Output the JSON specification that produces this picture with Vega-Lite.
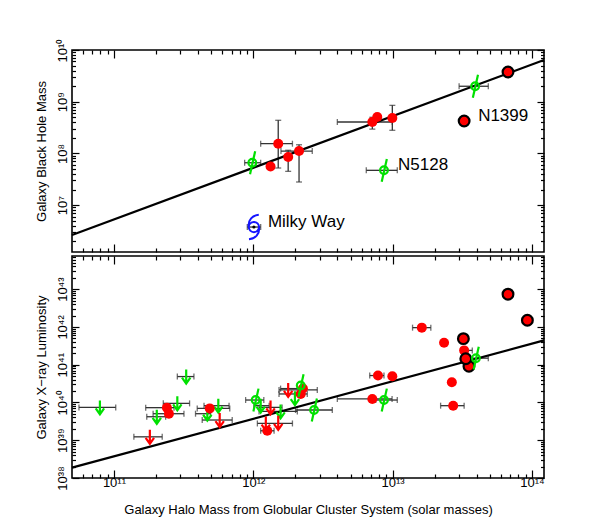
{
  "$schema": "https://vega.github.io/schema/vega-lite/v6.json",
  "background": "white",
  "padding": {"left": 34, "top": 37, "right": 5, "bottom": 5},
  "spacing": 0,
  "config": {
    "font": "Liberation Sans",
    "view": {"stroke": "black", "strokeWidth": 1.6},
    "axis": {
      "grid": false, "domain": false, "tickColor": "black", "tickWidth": 1.2,
      "labelColor": "black", "titleColor": "black", "labelFontSize": 13,
      "titleFontSize": 13, "titleFontWeight": "normal",
      "labelFlush": false, "labelOverlap": false, "labelBound": false
    }
  },
  "datasets": {
    "bhPoints": [
      {"halo": 1.33e12, "bh": 5.6e7, "kind": "red"},
      {"halo": 1.51e12, "bh": 1.54e8, "kind": "red"},
      {"halo": 1.78e12, "bh": 8.5e7, "kind": "red"},
      {"halo": 2.13e12, "bh": 1.11e8, "kind": "red"},
      {"halo": 7.15e12, "bh": 4.05e8, "kind": "red"},
      {"halo": 7.76e12, "bh": 5.06e8, "kind": "red"},
      {"halo": 9.95e12, "bh": 4.84e8, "kind": "red"},
      {"halo": 6.73e13, "bh": 3.75e9, "kind": "ringed"},
      {"halo": 3.26e13, "bh": 4.24e8, "kind": "ringed"},
      {"halo": 9.84e11, "bh": 6.6e7, "kind": "phi"},
      {"halo": 3.91e13, "bh": 1.99e9, "kind": "phi"},
      {"halo": 8.67e12, "bh": 4.71e7, "kind": "phi"},
      {"halo": 1.01e12, "bh": 3.77e6, "kind": "milkyway"}
    ],
    "bhXerr": [
      {"halo_lo": 1.13e12, "halo_hi": 1.91e12, "bh": 1.54e8},
      {"halo_lo": 1.58e12, "halo_hi": 2.65e12, "bh": 1.11e8},
      {"halo_lo": 4.01e12, "halo_hi": 9.95e12, "bh": 4.05e8},
      {"halo_lo": 8.67e11, "halo_hi": 1.13e12, "bh": 6.6e7},
      {"halo_lo": 3.0e13, "halo_hi": 4.86e13, "bh": 1.99e9},
      {"halo_lo": 6.47e12, "halo_hi": 1.08e13, "bh": 4.71e7},
      {"halo_lo": 9.06e11, "halo_hi": 1.13e12, "bh": 3.77e6}
    ],
    "bhYerr": [
      {"halo": 1.51e12, "bh_lo": 5.22e7, "bh_hi": 4.37e8},
      {"halo": 1.78e12, "bh_lo": 4.5e7, "bh_hi": 1.15e8},
      {"halo": 2.13e12, "bh_lo": 2.8e7, "bh_hi": 1.47e8},
      {"halo": 7.15e12, "bh_lo": 2.95e8, "bh_hi": 5.0e8},
      {"halo": 9.95e12, "bh_lo": 2.8e8, "bh_hi": 8.5e8}
    ],
    "bhFit": [
      {"halo": 5e10, "bh": 2.64e6},
      {"halo": 1.22e14, "bh": 6.41e9}
    ],
    "bhLabels": [
      {"halo": 3.26e13, "bh": 4.24e8, "label": "N1399"},
      {"halo": 8.67e12, "bh": 4.71e7, "label": "N5128"},
      {"halo": 1.01e12, "bh": 3.77e6, "label": "Milky Way"}
    ],
    "lxPoints": [
      {"halo": 7.93e10, "lx": 7.41e39, "kind": "greenLimit"},
      {"halo": 3.30e11, "lx": 4.85e40, "kind": "greenLimit"},
      {"halo": 2.85e11, "lx": 9.46e39, "kind": "greenLimit"},
      {"halo": 2.03e11, "lx": 4.19e39, "kind": "greenLimit"},
      {"halo": 5.61e11, "lx": 8.22e39, "kind": "greenLimit"},
      {"halo": 4.68e11, "lx": 5.04e39, "kind": "greenLimit"},
      {"halo": 1.13e12, "lx": 8.22e39, "kind": "greenLimit"},
      {"halo": 1.57e12, "lx": 5.79e39, "kind": "greenLimit"},
      {"halo": 1.99e12, "lx": 1.30e40, "kind": "greenLimit"},
      {"halo": 1.81e11, "lx": 1.23e39, "kind": "redLimit"},
      {"halo": 5.74e11, "lx": 3.43e39, "kind": "redLimit"},
      {"halo": 1.33e12, "lx": 7.41e39, "kind": "redLimit"},
      {"halo": 1.23e12, "lx": 2.78e39, "kind": "redLimit"},
      {"halo": 1.51e12, "lx": 2.90e39, "kind": "redLimit"},
      {"halo": 1.78e12, "lx": 2.15e40, "kind": "redLimit"},
      {"halo": 2.40e11, "lx": 7.28e39, "kind": "red"},
      {"halo": 2.48e11, "lx": 5.04e39, "kind": "red"},
      {"halo": 4.87e11, "lx": 6.97e39, "kind": "red"},
      {"halo": 1.26e12, "lx": 1.78e39, "kind": "red"},
      {"halo": 2.19e12, "lx": 1.68e40, "kind": "red"},
      {"halo": 2.27e12, "lx": 2.33e40, "kind": "red"},
      {"halo": 7.15e12, "lx": 1.24e40, "kind": "red"},
      {"halo": 7.85e12, "lx": 5.16e40, "kind": "red"},
      {"halo": 9.95e12, "lx": 4.94e40, "kind": "red"},
      {"halo": 1.62e13, "lx": 9.57e41, "kind": "red"},
      {"halo": 2.34e13, "lx": 3.82e41, "kind": "red"},
      {"halo": 2.66e13, "lx": 3.43e40, "kind": "red"},
      {"halo": 2.72e13, "lx": 8.22e39, "kind": "red"},
      {"halo": 3.26e13, "lx": 2.39e41, "kind": "red"},
      {"halo": 3.53e13, "lx": 9.12e40, "kind": "ringed"},
      {"halo": 3.35e13, "lx": 1.44e41, "kind": "ringed"},
      {"halo": 3.22e13, "lx": 4.89e41, "kind": "ringed"},
      {"halo": 6.73e13, "lx": 7.36e42, "kind": "ringed"},
      {"halo": 9.27e13, "lx": 1.50e42, "kind": "ringed"},
      {"halo": 1.04e12, "lx": 1.16e40, "kind": "phi"},
      {"halo": 2.19e12, "lx": 2.80e40, "kind": "phi"},
      {"halo": 2.73e12, "lx": 6.32e39, "kind": "phi"},
      {"halo": 8.67e12, "lx": 1.16e40, "kind": "phi"},
      {"halo": 3.96e13, "lx": 1.49e41, "kind": "phi"}
    ],
    "lxXerr": [
      {"halo_lo": 5.61e10, "halo_hi": 1.03e11, "lx": 7.41e39},
      {"halo_lo": 2.85e11, "halo_hi": 3.75e11, "lx": 4.85e40},
      {"halo_lo": 2.26e11, "halo_hi": 3.49e11, "lx": 9.46e39},
      {"halo_lo": 1.72e11, "halo_hi": 2.35e11, "lx": 4.19e39},
      {"halo_lo": 4.43e11, "halo_hi": 6.70e11, "lx": 8.22e39},
      {"halo_lo": 3.85e11, "halo_hi": 4.94e11, "lx": 5.04e39},
      {"halo_lo": 1.01e12, "halo_hi": 1.30e12, "lx": 8.22e39},
      {"halo_lo": 1.10e12, "halo_hi": 2.07e12, "lx": 5.79e39},
      {"halo_lo": 1.39e11, "halo_hi": 2.22e11, "lx": 1.23e39},
      {"halo_lo": 4.30e11, "halo_hi": 7.06e11, "lx": 3.43e39},
      {"halo_lo": 1.10e12, "halo_hi": 1.61e12, "lx": 7.41e39},
      {"halo_lo": 1.07e12, "halo_hi": 1.91e12, "lx": 2.78e39},
      {"halo_lo": 1.53e12, "halo_hi": 2.88e12, "lx": 2.15e40},
      {"halo_lo": 1.69e11, "halo_hi": 2.70e11, "lx": 7.28e39},
      {"halo_lo": 1.91e11, "halo_hi": 3.18e11, "lx": 5.04e39},
      {"halo_lo": 3.96e11, "halo_hi": 6.78e11, "lx": 6.97e39},
      {"halo_lo": 1.13e12, "halo_hi": 1.41e12, "lx": 1.78e39},
      {"halo_lo": 1.53e12, "halo_hi": 2.44e12, "lx": 1.68e40},
      {"halo_lo": 1.57e12, "halo_hi": 2.31e12, "lx": 2.33e40},
      {"halo_lo": 4.01e12, "halo_hi": 9.91e12, "lx": 1.24e40},
      {"halo_lo": 6.85e12, "halo_hi": 8.67e12, "lx": 5.16e40},
      {"halo_lo": 1.39e13, "halo_hi": 1.88e13, "lx": 9.57e41},
      {"halo_lo": 2.21e13, "halo_hi": 3.26e13, "lx": 8.22e39},
      {"halo_lo": 3.08e13, "halo_hi": 3.73e13, "lx": 2.39e41},
      {"halo_lo": 8.53e13, "halo_hi": 1.01e14, "lx": 1.50e42},
      {"halo_lo": 8.81e11, "halo_hi": 1.19e12, "lx": 1.16e40},
      {"halo_lo": 2.01e12, "halo_hi": 3.69e12, "lx": 6.32e39},
      {"halo_lo": 7.57e12, "halo_hi": 1.08e13, "lx": 1.16e40},
      {"halo_lo": 3.26e13, "halo_hi": 4.86e13, "lx": 1.49e41}
    ],
    "lxFit": [
      {"halo": 5e10, "lx": 1.88e38},
      {"halo": 1.22e14, "lx": 4.41e41}
    ]
  },
  "vconcat": [
    {
      "width": 472,
      "height": 202,
      "resolve": {"axis": {"x": "independent", "y": "independent"}},
      "layer": [
        {
          "data": {"name": "bhXerr"},
          "mark": {"type": "errorbar", "ticks": true, "size": 6, "thickness": 1.3, "color": "#333333"},
          "encoding": {
            "x": {"field": "halo_lo", "type": "quantitative", "scale": {"type": "log", "domain": [5e10, 1.22e14], "nice": false}, "axis": null},
            "x2": {"field": "halo_hi"},
            "y": {"field": "bh", "type": "quantitative", "scale": {"type": "log", "domain": [1.24e6, 1e10], "nice": false}, "axis": null}
          }
        },
        {
          "data": {"name": "bhYerr"},
          "mark": {"type": "errorbar", "ticks": true, "size": 6, "thickness": 1.3, "color": "#333333"},
          "encoding": {
            "x": {"field": "halo", "type": "quantitative", "axis": null},
            "y": {"field": "bh_lo", "type": "quantitative", "axis": null},
            "y2": {"field": "bh_hi"}
          }
        },
        {
          "data": {"name": "bhFit"},
          "mark": {"type": "line", "color": "black", "strokeWidth": 2.2},
          "encoding": {
            "x": {
              "field": "halo", "type": "quantitative",
              "axis": {
                "orient": "bottom", "labels": false, "title": null,
                "values": [6e10, 7e10, 8e10, 9e10, 1e11, 2e11, 3e11, 4e11, 5e11, 6e11, 7e11, 8e11, 9e11, 1e12, 2e12, 3e12, 4e12, 5e12, 6e12, 7e12, 8e12, 9e12, 1e13, 2e13, 3e13, 4e13, 5e13, 6e13, 7e13, 8e13, 9e13, 1e14],
                "tickSize": {"condition": {"test": "abs(log(datum.value)/LN10 - round(log(datum.value)/LN10)) < 0.01", "value": -8}, "value": -4}
              }
            },
            "y": {
              "field": "bh", "type": "quantitative",
              "axis": {
                "orient": "left", "title": "Galaxy Black Hole Mass", "titlePadding": 4,
                "values": [2e6, 3e6, 4e6, 5e6, 6e6, 7e6, 8e6, 9e6, 1e7, 2e7, 3e7, 4e7, 5e7, 6e7, 7e7, 8e7, 9e7, 1e8, 2e8, 3e8, 4e8, 5e8, 6e8, 7e8, 8e8, 9e8, 1e9, 2e9, 3e9, 4e9, 5e9, 6e9, 7e9, 8e9, 9e9, 1e10],
                "labelAngle": -90, "labelAlign": "center", "labelBaseline": "bottom", "labelPadding": 10,
                "labelExpr": "datum.value == 1e7 ? '10⁷' : datum.value == 1e8 ? '10⁸' : datum.value == 1e9 ? '10⁹' : datum.value == 1e10 ? '10¹⁰' : ''",
                "tickSize": {"condition": {"test": "abs(log(datum.value)/LN10 - round(log(datum.value)/LN10)) < 0.01", "value": -7}, "value": -3.5}
              }
            }
          }
        },
        {
          "data": {"name": "bhPoints"},
          "transform": [{"filter": "datum.kind == 'red'"}],
          "mark": {"type": "point", "shape": "circle", "filled": true, "size": 100, "color": "#ff0000", "opacity": 1},
          "encoding": {
            "x": {
              "field": "halo", "type": "quantitative",
              "axis": {
                "orient": "top", "labels": false, "title": null,
                "values": [6e10, 7e10, 8e10, 9e10, 1e11, 2e11, 3e11, 4e11, 5e11, 6e11, 7e11, 8e11, 9e11, 1e12, 2e12, 3e12, 4e12, 5e12, 6e12, 7e12, 8e12, 9e12, 1e13, 2e13, 3e13, 4e13, 5e13, 6e13, 7e13, 8e13, 9e13, 1e14],
                "tickSize": {"condition": {"test": "abs(log(datum.value)/LN10 - round(log(datum.value)/LN10)) < 0.01", "value": -8}, "value": -4}
              }
            },
            "y": {
              "field": "bh", "type": "quantitative",
              "axis": {
                "orient": "right", "labels": false, "title": null,
                "values": [2e6, 3e6, 4e6, 5e6, 6e6, 7e6, 8e6, 9e6, 1e7, 2e7, 3e7, 4e7, 5e7, 6e7, 7e7, 8e7, 9e7, 1e8, 2e8, 3e8, 4e8, 5e8, 6e8, 7e8, 8e8, 9e8, 1e9, 2e9, 3e9, 4e9, 5e9, 6e9, 7e9, 8e9, 9e9, 1e10],
                "tickSize": {"condition": {"test": "abs(log(datum.value)/LN10 - round(log(datum.value)/LN10)) < 0.01", "value": -7}, "value": -3.5}
              }
            }
          }
        },
        {
          "data": {"name": "bhPoints"},
          "transform": [{"filter": "datum.kind == 'ringed'"}],
          "mark": {"type": "point", "shape": "circle", "filled": true, "size": 115, "fill": "#ff0000", "stroke": "black", "strokeWidth": 2.2, "opacity": 1},
          "encoding": {
            "x": {"field": "halo", "type": "quantitative", "axis": null},
            "y": {"field": "bh", "type": "quantitative", "axis": null}
          }
        },
        {
          "data": {"name": "bhPoints"},
          "transform": [{"filter": "datum.kind == 'phi'"}],
          "mark": {"type": "point", "shape": "circle", "filled": false, "size": 60, "color": "#00e000", "strokeWidth": 2.2, "opacity": 1},
          "encoding": {
            "x": {"field": "halo", "type": "quantitative", "axis": null},
            "y": {"field": "bh", "type": "quantitative", "axis": null}
          }
        },
        {
          "data": {"name": "bhPoints"},
          "transform": [{"filter": "datum.kind == 'phi'"}],
          "mark": {"type": "point", "shape": "M-0.2,1L0.25,-1", "filled": false, "size": 520, "color": "#00e000", "strokeWidth": 2.2, "opacity": 1},
          "encoding": {
            "x": {"field": "halo", "type": "quantitative", "axis": null},
            "y": {"field": "bh", "type": "quantitative", "axis": null}
          }
        },
        {
          "data": {"name": "bhPoints"},
          "transform": [{"filter": "datum.kind == 'milkyway'"}],
          "mark": {"type": "point", "shape": "M-0.42,0A0.42,0.42 0 1,0 0.42,0A0.42,0.42 0 1,0 -0.42,0M-0.42,0C-0.5,-0.6 -0.1,-0.95 0.4,-1M0.42,0C0.5,0.6 0.1,0.95 -0.4,1", "filled": false, "size": 600, "color": "#1414ff", "strokeWidth": 2, "opacity": 1},
          "encoding": {
            "x": {"field": "halo", "type": "quantitative", "axis": null},
            "y": {"field": "bh", "type": "quantitative", "axis": null}
          }
        },
        {
          "data": {"name": "bhPoints"},
          "transform": [{"filter": "datum.kind == 'milkyway'"}],
          "mark": {"type": "point", "shape": "circle", "filled": true, "size": 10, "color": "black", "opacity": 1},
          "encoding": {
            "x": {"field": "halo", "type": "quantitative", "axis": null},
            "y": {"field": "bh", "type": "quantitative", "axis": null}
          }
        },
        {
          "data": {"name": "bhLabels"},
          "mark": {"type": "text", "align": "left", "baseline": "middle", "dx": 14, "dy": -5, "fontSize": 17, "color": "black"},
          "encoding": {
            "x": {"field": "halo", "type": "quantitative", "axis": null},
            "y": {"field": "bh", "type": "quantitative", "axis": null},
            "text": {"field": "label"}
          }
        }
      ]
    },
    {
      "width": 472,
      "height": 222,
      "resolve": {"axis": {"x": "independent", "y": "independent"}},
      "layer": [
        {
          "data": {"name": "lxXerr"},
          "mark": {"type": "errorbar", "ticks": true, "size": 6, "thickness": 1.3, "color": "#333333"},
          "encoding": {
            "x": {"field": "halo_lo", "type": "quantitative", "scale": {"type": "log", "domain": [5e10, 1.22e14], "nice": false}, "axis": null},
            "x2": {"field": "halo_hi"},
            "y": {"field": "lx", "type": "quantitative", "scale": {"type": "log", "domain": [1e38, 7.55e43], "nice": false}, "axis": null}
          }
        },
        {
          "data": {"name": "lxFit"},
          "mark": {"type": "line", "color": "black", "strokeWidth": 2.2},
          "encoding": {
            "x": {
              "field": "halo", "type": "quantitative",
              "axis": {
                "orient": "bottom", "title": "Galaxy Halo Mass from Globular Cluster System (solar masses)", "titlePadding": 10,
                "values": [6e10, 7e10, 8e10, 9e10, 1e11, 2e11, 3e11, 4e11, 5e11, 6e11, 7e11, 8e11, 9e11, 1e12, 2e12, 3e12, 4e12, 5e12, 6e12, 7e12, 8e12, 9e12, 1e13, 2e13, 3e13, 4e13, 5e13, 6e13, 7e13, 8e13, 9e13, 1e14],
                "labelPadding": 6,
                "labelExpr": "datum.value == 1e11 ? '10¹¹' : datum.value == 1e12 ? '10¹²' : datum.value == 1e13 ? '10¹³' : datum.value == 1e14 ? '10¹⁴' : ''",
                "tickSize": {"condition": {"test": "abs(log(datum.value)/LN10 - round(log(datum.value)/LN10)) < 0.01", "value": -8}, "value": -4}
              }
            },
            "y": {
              "field": "lx", "type": "quantitative",
              "axis": {
                "orient": "left", "title": "Galaxy X−ray Luminosity", "titlePadding": 4,
                "values": [1e38, 2e38, 3e38, 4e38, 5e38, 6e38, 7e38, 8e38, 9e38, 1e39, 2e39, 3e39, 4e39, 5e39, 6e39, 7e39, 8e39, 9e39, 1e40, 2e40, 3e40, 4e40, 5e40, 6e40, 7e40, 8e40, 9e40, 1e41, 2e41, 3e41, 4e41, 5e41, 6e41, 7e41, 8e41, 9e41, 1e42, 2e42, 3e42, 4e42, 5e42, 6e42, 7e42, 8e42, 9e42, 1e43, 2e43, 3e43, 4e43, 5e43, 6e43, 7e43],
                "labelAngle": -90, "labelAlign": "center", "labelBaseline": "bottom", "labelPadding": 10,
                "labelExpr": "datum.value == 1e38 ? '10³⁸' : datum.value == 1e39 ? '10³⁹' : datum.value == 1e40 ? '10⁴⁰' : datum.value == 1e41 ? '10⁴¹' : datum.value == 1e42 ? '10⁴²' : datum.value == 1e43 ? '10⁴³' : ''",
                "tickSize": {"condition": {"test": "abs(log(datum.value)/LN10 - round(log(datum.value)/LN10)) < 0.01", "value": -7}, "value": -3.5}
              }
            }
          }
        },
        {
          "data": {"name": "lxPoints"},
          "transform": [{"filter": "datum.kind == 'greenLimit'"}],
          "mark": {"type": "point", "shape": "M0,-1L0,1M-0.6,0.15L0,1L0.6,0.15", "filled": false, "size": 196, "color": "#00e000", "strokeWidth": 2.2, "opacity": 1},
          "encoding": {
            "x": {
              "field": "halo", "type": "quantitative",
              "axis": {
                "orient": "top", "labels": false, "title": null,
                "values": [6e10, 7e10, 8e10, 9e10, 1e11, 2e11, 3e11, 4e11, 5e11, 6e11, 7e11, 8e11, 9e11, 1e12, 2e12, 3e12, 4e12, 5e12, 6e12, 7e12, 8e12, 9e12, 1e13, 2e13, 3e13, 4e13, 5e13, 6e13, 7e13, 8e13, 9e13, 1e14],
                "tickSize": {"condition": {"test": "abs(log(datum.value)/LN10 - round(log(datum.value)/LN10)) < 0.01", "value": -8}, "value": -4}
              }
            },
            "y": {
              "field": "lx", "type": "quantitative",
              "axis": {
                "orient": "right", "labels": false, "title": null,
                "values": [1e38, 2e38, 3e38, 4e38, 5e38, 6e38, 7e38, 8e38, 9e38, 1e39, 2e39, 3e39, 4e39, 5e39, 6e39, 7e39, 8e39, 9e39, 1e40, 2e40, 3e40, 4e40, 5e40, 6e40, 7e40, 8e40, 9e40, 1e41, 2e41, 3e41, 4e41, 5e41, 6e41, 7e41, 8e41, 9e41, 1e42, 2e42, 3e42, 4e42, 5e42, 6e42, 7e42, 8e42, 9e42, 1e43, 2e43, 3e43, 4e43, 5e43, 6e43, 7e43],
                "tickSize": {"condition": {"test": "abs(log(datum.value)/LN10 - round(log(datum.value)/LN10)) < 0.01", "value": -7}, "value": -3.5}
              }
            }
          }
        },
        {
          "data": {"name": "lxPoints"},
          "transform": [{"filter": "datum.kind == 'redLimit'"}],
          "mark": {"type": "point", "shape": "M0,-1L0,1M-0.6,0.15L0,1L0.6,0.15", "filled": false, "size": 196, "color": "#ff0000", "strokeWidth": 2.2, "opacity": 1},
          "encoding": {
            "x": {"field": "halo", "type": "quantitative", "axis": null},
            "y": {"field": "lx", "type": "quantitative", "axis": null}
          }
        },
        {
          "data": {"name": "lxPoints"},
          "transform": [{"filter": "datum.kind == 'red'"}],
          "mark": {"type": "point", "shape": "circle", "filled": true, "size": 100, "color": "#ff0000", "opacity": 1},
          "encoding": {
            "x": {"field": "halo", "type": "quantitative", "axis": null},
            "y": {"field": "lx", "type": "quantitative", "axis": null}
          }
        },
        {
          "data": {"name": "lxPoints"},
          "transform": [{"filter": "datum.kind == 'ringed'"}],
          "mark": {"type": "point", "shape": "circle", "filled": true, "size": 115, "fill": "#ff0000", "stroke": "black", "strokeWidth": 2.2, "opacity": 1},
          "encoding": {
            "x": {"field": "halo", "type": "quantitative", "axis": null},
            "y": {"field": "lx", "type": "quantitative", "axis": null}
          }
        },
        {
          "data": {"name": "lxPoints"},
          "transform": [{"filter": "datum.kind == 'phi'"}],
          "mark": {"type": "point", "shape": "circle", "filled": false, "size": 60, "color": "#00e000", "strokeWidth": 2.2, "opacity": 1},
          "encoding": {
            "x": {"field": "halo", "type": "quantitative", "axis": null},
            "y": {"field": "lx", "type": "quantitative", "axis": null}
          }
        },
        {
          "data": {"name": "lxPoints"},
          "transform": [{"filter": "datum.kind == 'phi'"}],
          "mark": {"type": "point", "shape": "M-0.2,1L0.25,-1", "filled": false, "size": 520, "color": "#00e000", "strokeWidth": 2.2, "opacity": 1},
          "encoding": {
            "x": {"field": "halo", "type": "quantitative", "axis": null},
            "y": {"field": "lx", "type": "quantitative", "axis": null}
          }
        }
      ]
    }
  ]
}
